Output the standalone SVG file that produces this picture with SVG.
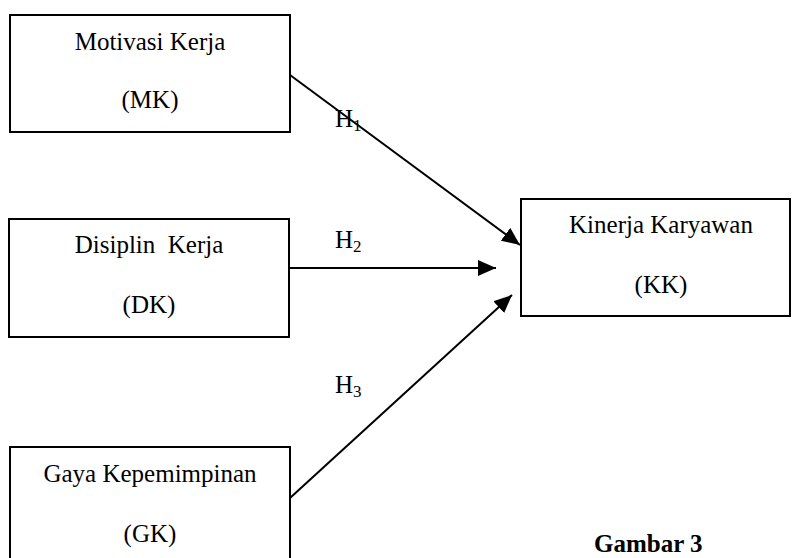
<svg xmlns="http://www.w3.org/2000/svg" width="792" height="558" viewBox="0 0 792 558">
<defs>
<style>
.box{fill:#fff;stroke:#000;stroke-width:2}
.t{font-family:"Liberation Serif","Times New Roman",serif;font-size:25px;fill:#000;text-anchor:middle}
.h{font-family:"Liberation Serif","Times New Roman",serif;font-size:25px;fill:#000}
.sub{font-size:17px}
.cap{font-family:"Liberation Serif","Times New Roman",serif;font-size:25px;font-weight:bold;fill:#000}
.edge{stroke:#000;stroke-width:2;fill:none}
</style>
<marker id="arr" markerUnits="userSpaceOnUse" markerWidth="20" markerHeight="16" refX="18" refY="8" orient="auto">
<path d="M0,0 L18,8 L0,16 Z" fill="#000"/>
</marker>
</defs>
<rect width="792" height="558" fill="#fff"/>
<g id="connectors">
<line class="edge" x1="290" y1="75" x2="520" y2="245" marker-end="url(#arr)"/>
<line class="edge" x1="289" y1="268" x2="496" y2="268" marker-end="url(#arr)"/>
<line class="edge" x1="290" y1="498" x2="512" y2="295" marker-end="url(#arr)"/>
<text class="h" x="335" y="127">H<tspan class="sub" dy="4">1</tspan></text>
<text class="h" x="335" y="248">H<tspan class="sub" dy="4">2</tspan></text>
<text class="h" x="335" y="393">H<tspan class="sub" dy="4">3</tspan></text>
</g>
<g id="MK">
<rect class="box" x="10" y="15" width="280" height="117"/>
<text class="t" x="150" y="50">Motivasi Kerja</text>
<text class="t" x="150" y="108">(MK)</text>
</g>
<g id="DK">
<rect class="box" x="9" y="219" width="280" height="118"/>
<text class="t" x="149" y="253" xml:space="preserve">Disiplin  Kerja</text>
<text class="t" x="149" y="313">(DK)</text>
</g>
<g id="GK">
<rect class="box" x="10" y="447" width="280" height="125"/>
<text class="t" x="150" y="482">Gaya Kepemimpinan</text>
<text class="t" x="150" y="542">(GK)</text>
</g>
<g id="KK">
<rect class="box" x="521" y="199" width="269" height="117"/>
<text class="t" x="661" y="233">Kinerja Karyawan</text>
<text class="t" x="661" y="293">(KK)</text>
</g>
<g id="caption">
<text class="cap" x="594" y="552">Gambar 3</text>
</g>
</svg>
